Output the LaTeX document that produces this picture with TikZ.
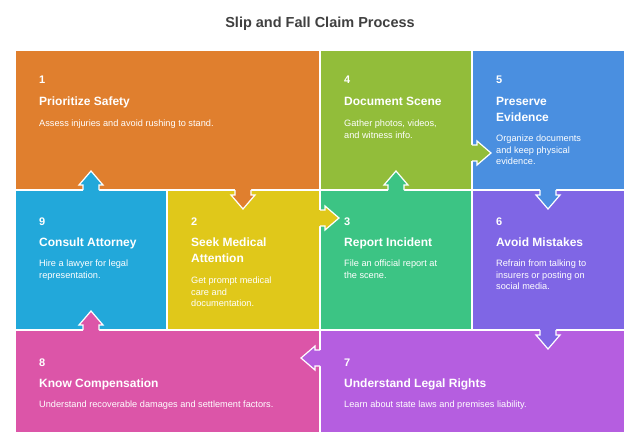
\documentclass[tikz,border=0pt]{standalone}
\usepackage{fontspec}
\setmainfont{Liberation Sans}
\begin{document}
\begin{tikzpicture}[x=1pt,y=-1pt,
 box/.style={draw=white,line width=1.2pt},
 num/.style={anchor=base west,text=white,font=\bfseries\fontsize{11}{13}\selectfont,inner sep=0},
 ttl/.style={anchor=north west,text=white,font=\bfseries\fontsize{12}{16}\selectfont,inner sep=0,align=left},
 dsc/.style={anchor=north west,text=white,font=\fontsize{9.2}{11.3}\selectfont,inner sep=0,align=left}]
\definecolor{c1}{HTML}{E07F2E}\definecolor{c4}{HTML}{92BD3A}\definecolor{c5}{HTML}{4A8FE0}
\definecolor{c9}{HTML}{22A8DA}\definecolor{c2}{HTML}{E0C81A}\definecolor{c3}{HTML}{3CC484}
\definecolor{c6}{HTML}{7F66E5}\definecolor{c8}{HTML}{DC55A8}\definecolor{c7}{HTML}{B55EE0}
\useasboundingbox (0,0) rectangle (640,441);
\node[font=\bfseries\fontsize{14.5}{16}\selectfont,text=black!75] (title) at (320,24) {Slip and Fall Claim Process};
\fill[box,fill=c1] (15,50) rectangle (320,190);
\fill[box,fill=c4] (320,50) rectangle (472,190);
\fill[box,fill=c5] (472,50) rectangle (625,190);
\fill[box,fill=c9] (15,190) rectangle (167,330);
\fill[box,fill=c2] (167,190) rectangle (320,330);
\fill[box,fill=c3] (320,190) rectangle (472,330);
\fill[box,fill=c6] (472,190) rectangle (625,330);
\fill[box,fill=c8] (15,330) rectangle (320,433);
\fill[box,fill=c7] (320,330) rectangle (625,433);
\newcommand{\arr}[4]{% x,y,rotation,color
 \begin{scope}[shift={(#1,#2)},rotate=#3]
 \fill[#4] (-8,-1.5)--(-8,5)--(-12,5)--(0,19)--(12,5)--(8,5)--(8,-1.5)--cycle;
 \draw[white,line width=1.2pt,line join=miter] (-8,0)--(-8,5)--(-12,5)--(0,19)--(12,5)--(8,5)--(8,0);
 \end{scope}}
\arr{91}{190}{180}{c9}
\arr{243}{190}{0}{c1}
\arr{320}{218}{90}{c2}
\arr{396}{190}{180}{c3}
\arr{472}{153}{90}{c4}
\arr{548}{190}{0}{c5}
\arr{548}{330}{0}{c6}
\arr{320}{358}{-90}{c7}
\arr{91}{330}{180}{c8}
% texts
\node[num] (n1) at (39,84) {1};
\node[ttl] (t1) at (39,97) {Prioritize Safety};
\node[dsc] (d1) at (39,120) {Assess injuries and avoid rushing to stand.};
\node[num] (n4) at (344,84) {4};
\node[ttl] (t4) at (344,97) {Document Scene};
\node[dsc] (d4) at (344,120) {Gather photos, videos,\\and witness info.};
\node[num] (n5) at (496,84) {5};
\node[ttl] (t5) at (496,97) {Preserve\\Evidence};
\node[dsc] (d5) at (496,135) {Organize documents\\and keep physical\\evidence.};
\node[num] (n9) at (39,225) {9};
\node[ttl] (t9) at (39,238) {Consult Attorney};
\node[dsc] (d9) at (39,260) {Hire a lawyer for legal\\representation.};
\node[num] (n2) at (191,225) {2};
\node[ttl] (t2) at (191,238) {Seek Medical\\Attention};
\node[dsc] (d2) at (191,277) {Get prompt medical\\care and\\documentation.};
\node[num] (n3) at (344,225) {3};
\node[ttl] (t3) at (344,238) {Report Incident};
\node[dsc] (d3) at (344,260) {File an official report at\\the scene.};
\node[num] (n6) at (496,225) {6};
\node[ttl] (t6) at (496,238) {Avoid Mistakes};
\node[dsc] (d6) at (496,260) {Refrain from talking to\\insurers or posting on\\social media.};
\node[num] (n8) at (39,366) {8};
\node[ttl] (t8) at (39,379) {Know Compensation};
\node[dsc] (d8) at (39,401) {Understand recoverable damages and settlement factors.};
\node[num] (n7) at (344,366) {7};
\node[ttl] (t7) at (344,379) {Understand Legal Rights};
\node[dsc] (d7) at (344,401) {Learn about state laws and premises liability.};
\end{tikzpicture}
\end{document}
